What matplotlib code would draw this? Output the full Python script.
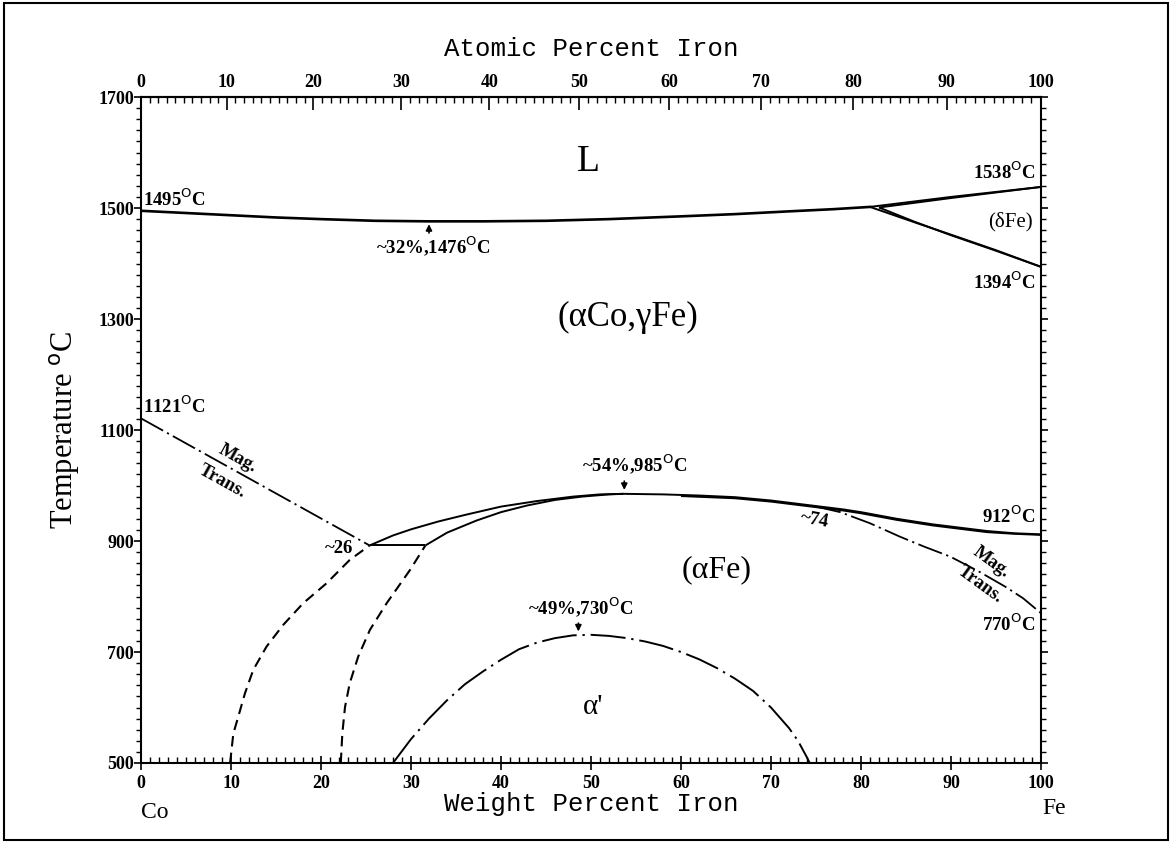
import matplotlib
matplotlib.use('Agg')
import matplotlib.pyplot as plt
import numpy as np
from matplotlib.ticker import MultipleLocator, FixedLocator
from matplotlib.patches import Rectangle

# Co-Fe phase diagram, x = weight percent Fe, y = temperature (C)

# liquidus / solidus (nearly coincident)
liq_x = [0, 5, 10, 15, 20, 26, 32, 38, 45, 52, 60, 66, 72, 77, 81]
liq_t = [1495, 1491, 1487, 1483, 1480, 1477, 1476, 1476, 1477, 1480, 1485, 1489, 1494, 1498, 1502]
# L / (deltaFe) lines to pure Fe melting point
dliq_x = [81, 90, 100]
dliq_t = [1502, 1520, 1538]
dsol_x = [82, 90, 100]
dsol_t = [1501, 1518, 1538]
# (deltaFe) / gamma lines down to 1394
dgam1_x = [81, 86, 90, 95, 100]
dgam1_t = [1502, 1474, 1452, 1424, 1394]
dgam2_x = [82, 86, 90, 95, 100]
dgam2_t = [1501, 1475, 1451, 1423, 1394]

# gamma / alpha boundaries
gao_x = [25.4, 28, 30, 33, 36, 40, 44, 48, 51, 53.6, 58, 62, 66, 70, 74, 78,
         80, 84, 88, 91, 94, 97, 100]
gao_t = [892, 910, 921, 935, 947, 962, 972, 980, 984, 985, 984, 982, 979,
         973, 965, 957, 952, 940, 930, 924, 918, 914, 912]
gai_x = [31.6, 34, 37.3, 40, 42.9, 46, 49, 52, 53.6]
gai_t = [892, 915, 937, 952, 964, 974, 980, 984, 985]
gar_x = [60, 66, 70, 74, 78, 80, 84, 88, 91, 94, 97, 100]
gar_t = [981, 977, 971, 963, 955, 950, 938, 928, 922, 916, 913, 911]
tie_x = [25.4, 31.6]
tie_t = [892, 892]

# dashed (estimated) boundaries below ~890C
dout_x = [9.9, 10.26, 10.8, 11.56, 12.48, 13.96, 15.81, 18.03, 20.63, 23.2, 25.4]
dout_t = [500, 553, 583, 626, 668, 710, 749, 788, 824, 866, 892]
din_x = [22.2, 22.37, 22.67, 23.2, 24.14, 25.44, 27.3, 29.9, 31.6]
din_t = [500, 553, 601, 644, 692, 740, 788, 848, 892]

# magnetic transitions
magl_x = [0, 25.4]
magl_t = [1121, 892]
magr_x = [75, 77.7, 81, 84.3, 87, 89.9, 93, 96, 98, 100]
magr_t = [962, 952, 932, 908, 890, 872, 846, 818, 797, 770]

# ordering alpha'
ord_x = [28, 30, 32, 34, 36, 38, 40, 42, 44, 46, 48, 50, 52, 54, 56, 58,
         60, 62, 64, 66, 68, 70, 72, 73, 74, 74.3]
ord_t = [500, 543, 580, 613, 642, 665, 686, 705, 717, 725, 730, 731, 729,
         725, 719, 711, 700, 687, 671, 652, 630, 600, 563, 540, 510, 500]

x_ticks = [0, 10, 20, 30, 40, 50, 60, 70, 80, 90, 100]
y_ticks = [500, 700, 900, 1100, 1300, 1500, 1700]
at_ticks = [0, 10, 20, 30, 40, 50, 60, 70, 80, 90, 100]

M_FE = 55.845
M_CO = 58.933


def wt_to_at(w):
    w = np.asarray(w, dtype=float)
    a = w / M_FE
    b = (100 - w) / M_CO
    return 100 * a / (a + b)


def at_to_wt(a):
    a = np.asarray(a, dtype=float)
    w = a * M_FE
    c = (100 - a) * M_CO
    return 100 * w / (w + c)


tick_font = {'family': 'Liberation Serif', 'weight': 'bold', 'size': 13}
title_font = {'family': 'Liberation Mono', 'size': 18.5}
serif = 'Liberation Serif'

fig = plt.figure(figsize=(11.72, 8.43), dpi=100)
ax = fig.add_axes([0.1203, 0.0949, 0.7679, 0.79])

k = 'black'
solid = dict(color=k, lw=1.4, solid_capstyle='butt')
ax.plot(liq_x, liq_t, color=k, lw=1.9)
ax.plot(dliq_x, dliq_t, **solid)
ax.plot(dsol_x, dsol_t, **solid)
ax.plot(dgam1_x, dgam1_t, **solid)
ax.plot(dgam2_x, dgam2_t, **solid)
ax.plot(gao_x, gao_t, **solid)
ax.plot(gai_x, gai_t, **solid)
ax.plot(gar_x, gar_t, **solid)
ax.plot(tie_x, tie_t, **solid)

ax.plot(dout_x, dout_t, color=k, lw=1.5, linestyle=(0, (5, 3)))
ax.plot(din_x, din_t, color=k, lw=1.5, linestyle=(0, (5, 3)))

ax.plot(magl_x, magl_t, color=k, lw=1.3, linestyle=(0, (14, 2.5, 1.2, 2.5)))
ax.plot(magr_x, magr_t, color=k, lw=1.3, linestyle=(0, (14, 2.5, 1.2, 2.5)))
ax.plot(ord_x, ord_t, color=k, lw=1.4, linestyle=(0, (18, 3, 1.2, 3)))

ax.set_xlim(0, 100)
ax.set_ylim(500, 1700)

# axes ticks
ax.xaxis.set_major_locator(FixedLocator(x_ticks))
ax.xaxis.set_minor_locator(MultipleLocator(1))
ax.yaxis.set_major_locator(FixedLocator(y_ticks))
ax.yaxis.set_minor_locator(MultipleLocator(20))
ax.tick_params(axis='x', which='major', direction='inout', length=10, width=1.2,
               top=False, pad=4)
ax.tick_params(axis='x', which='minor', direction='in', length=4, width=1,
               top=False)
ax.tick_params(axis='y', which='major', direction='out', length=5, width=1.2,
               right=True, pad=0)
ax.tick_params(axis='y', which='minor', direction='out', length=3.5, width=1,
               right=True)
for lab in ax.get_xticklabels() + ax.get_yticklabels():
    lab.set_fontfamily(tick_font['family'])
    lab.set_fontweight(tick_font['weight'])
    lab.set_fontsize(tick_font['size'])
for sp in ax.spines.values():
    sp.set_linewidth(1.5)

sec = ax.secondary_xaxis('top', functions=(wt_to_at, at_to_wt))
sec.xaxis.set_major_locator(FixedLocator(at_ticks))
sec.xaxis.set_minor_locator(MultipleLocator(1))
sec.tick_params(which='major', direction='in', length=9, width=1.2, pad=4)
sec.tick_params(which='minor', direction='in', length=4, width=1)
for lab in sec.get_xticklabels():
    lab.set_fontfamily(tick_font['family'])
    lab.set_fontweight(tick_font['weight'])
    lab.set_fontsize(tick_font['size'])
sec.spines['top'].set_linewidth(1.5)
sec.set_xlabel('Atomic Percent Iron', fontdict=title_font, labelpad=13)

ax.set_xlabel('Weight Percent Iron', fontdict=title_font, labelpad=0)
ax.set_ylabel('Temperature $^{\\rm o}$C', family=serif, fontsize=22, labelpad=12)

# region labels
ax.text(49.7, 1583, 'L', family=serif, fontsize=27, ha='center', va='center')
ax.text(54.1, 1302, '(αCo,γFe)', family=serif, fontsize=25, ha='center', va='center')
ax.text(64, 848, '(αFe)', family=serif, fontsize=23, ha='center', va='center')
ax.text(50.2, 601, "α'", family=serif, fontsize=21, ha='center', va='center')
ax.text(96.6, 1475, '(δFe)', family=serif, fontsize=15,
        ha='center', va='center')

small = dict(family=serif, fontsize=13.5, fontweight='bold')
ax.text(0.2, 1516, '1495$^{\\rm O}$C', ha='left', va='center', **small)
ax.text(99.4, 1565, '1538$^{\\rm O}$C', ha='right', va='center', **small)
ax.text(99.4, 1366, '1394$^{\\rm O}$C', ha='right', va='center', **small)
ax.text(0.2, 1142, '1121$^{\\rm O}$C', ha='left', va='center', **small)
ax.text(99.4, 945, '912$^{\\rm O}$C', ha='right', va='center', **small)
ax.text(99.4, 750, '770$^{\\rm O}$C', ha='right', va='center', **small)
ax.text(32.5, 1430, '~32%,1476$^{\\rm O}$C', ha='center', va='center', **small)
ax.text(54.8, 1037, '~54%,985$^{\\rm O}$C', ha='center', va='center', **small)
ax.text(48.8, 780, '~49%,730$^{\\rm O}$C', ha='center', va='center', **small)
ax.text(22.0, 886, '~26', ha='center', va='center', **small)
ax.text(74.9, 938, '~74', ha='center', va='center', rotation=-10, **small)

ax.text(10.8, 1049, 'Mag.', ha='center', va='center', rotation=-29, **small)
ax.text(9.0, 1008, 'Trans.', ha='center', va='center', rotation=-29, **small)
ax.text(94.5, 861, 'Mag.', ha='center', va='center', rotation=-36, **small)
ax.text(93.2, 822, 'Trans.', ha='center', va='center', rotation=-36, **small)

arrow = dict(arrowstyle='-|>', color=k, lw=1.2, mutation_scale=9)
ax.annotate('', xy=(32, 1476), xytext=(32, 1450), arrowprops=arrow)
ax.annotate('', xy=(53.7, 987), xytext=(53.7, 1013), arrowprops=arrow)
ax.annotate('', xy=(48.6, 732), xytext=(48.6, 757), arrowprops=arrow)

# element names under the axis ends
fig.text(155 / 1172, 1 - 812 / 843, 'Co', family=serif, fontsize=17,
         ha='center', va='center')
fig.text(1054 / 1172, 1 - 808 / 843, 'Fe', family=serif, fontsize=17,
         ha='center', va='center')

fig.add_artist(Rectangle((0.003, 0.004), 0.994, 0.992, transform=fig.transFigure,
                         fill=False, lw=1.5, color=k))

fig.savefig('out.png', dpi=100)
plt.close(fig)
